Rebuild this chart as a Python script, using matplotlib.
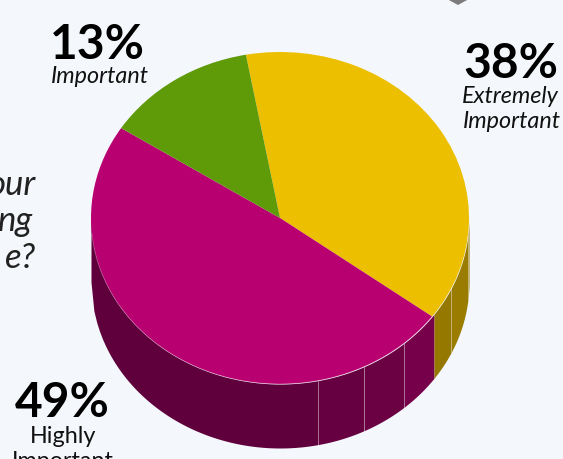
import numpy as np
import matplotlib
matplotlib.use("Agg")
import matplotlib.pyplot as plt
from matplotlib.patches import Polygon

W, H = 563, 460
BG = "#F4F8FC"

labels = ["Extremely\nImportant", "Highly\nImportant", "Important"]
shares = [38, 49, 13]
top_colors = ["#ECBF00", "#B80070", "#5F9A08"]
question_tail = ["our", "ng", "e?"]

START_ANGLE = 100.4
DEPTH = 64 / 166

# shades of the side wall, panel by panel, left to right: (x edge in pie units, colour)
PINK_PANELS = [(-1.0, "#5F003C"), (0.2, "#660040"), (0.444, "#6B0043"), (0.655, "#760049")]
GOLD_PANELS = [(0.815, "#957800"), (0.906, "#9A7C00"), (0.995, "#8F7300")]


def px(x, y):
    return x / W, 1 - y / H


def wall(ax, x0, x1, color):
    xs = np.linspace(x0, x1, 80)
    top = -np.sqrt(np.clip(1 - xs ** 2, 0, None))
    ax.fill_between(xs, top - DEPTH, top, color=color, lw=0, clip_on=False, zorder=1)


def panels(ax, rows, end):
    edges = [r[0] for r in rows] + [end]
    for i, (x0, color) in enumerate(rows):
        wall(ax, x0, edges[i + 1], color)
        if i > 0:
            # thin light seam between wall panels
            y = -np.sqrt(1 - x0 ** 2)
            ax.plot([x0, x0], [y - DEPTH, y], color="#FFFFFF", alpha=0.3, lw=0.7,
                    clip_on=False, zorder=2)


fig = plt.figure(figsize=(W / 100, H / 100), dpi=100, facecolor=BG)
ax = fig.add_axes([91 / W, (H - 385) / H, 378 / W, 332 / H])

ax.pie(shares, colors=top_colors, startangle=START_ANGLE, counterclock=False, radius=1,
       wedgeprops={"linewidth": 0, "zorder": 3})
ax.set_aspect("auto")
for p in ax.patches:
    p.set_clip_on(False)

panels(ax, PINK_PANELS, 0.815)
panels(ax, GOLD_PANELS, 1.0)

# faint light rim where the pink top meets its wall
rim_x = np.linspace(-0.995, 0.81, 200)
ax.plot(rim_x, -np.sqrt(1 - rim_x ** 2), color="#FFFFFF", alpha=0.3, lw=0.6, clip_on=False, zorder=4)

ax.set_xlim(-1, 1)
ax.set_ylim(-1, 1)
ax.axis("off")

# grey marker cut off by the top edge
fig.add_artist(Polygon([px(447, -5), px(469, -5), px(469, 0), px(458, 6), px(447, 0)],
                       closed=True, transform=fig.transFigure, fc="#7C7C7C", ec="none"))

FONT = "Lato"
INK = "#111111"

big = dict(family=FONT, fontweight="bold", fontsize=34.5, color="#000000", ha="center", va="baseline")
fig.text(*px(97, 59), f"{shares[2]}%", **big)
fig.text(*px(511, 78), f"{shares[0]}%", **big)
fig.text(*px(62, 417), f"{shares[1]}%", **big)

small = dict(family=FONT, fontsize=16.8, color=INK, va="baseline")
fig.text(*px(100, 83), labels[2], style="italic", ha="center", **small)
fig.text(*px(462, 103), "Extremely", style="italic", ha="left", **small)
fig.text(*px(463, 128), "Important", style="italic", ha="left", **small)
fig.text(*px(63, 443), "Highly", ha="center", **small)
fig.text(*px(63, 468), "Important", ha="center", **small)

for text, y, right in zip(question_tail, [195, 231, 268], [36, 33, 36]):
    fig.text(*px(right, y), text, family=FONT, style="italic", fontsize=25, color="#222222",
             ha="right", va="baseline")

fig.savefig("out.png", dpi=100, facecolor=BG)
